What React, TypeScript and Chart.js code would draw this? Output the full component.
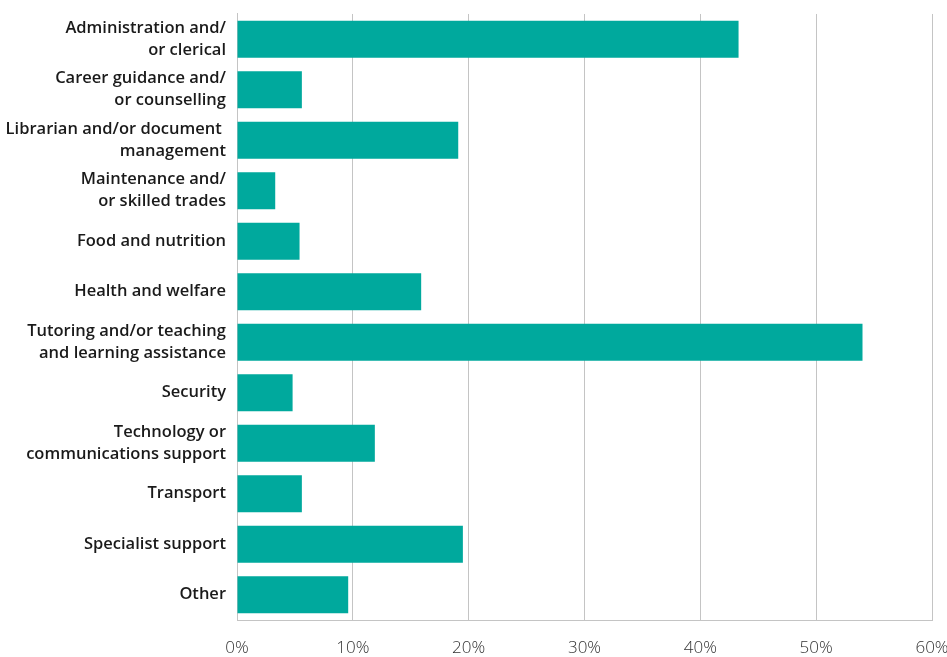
import React, { useEffect, useRef } from "react";
import { Chart, registerables } from "chart.js";

Chart.register(...registerables);

const categories: string[][] = [
  ["Administration and/", "or clerical"],
  ["Career guidance and/", "or counselling"],
  ["Librarian and/or document ", "management"],
  ["Maintenance and/", "or skilled trades"],
  ["Food and nutrition"],
  ["Health and welfare"],
  ["Tutoring and/or teaching", "and learning assistance"],
  ["Security"],
  ["Technology or", "communications support"],
  ["Transport"],
  ["Specialist support"],
  ["Other"],
];

const values: number[] = [43.3, 5.6, 19.1, 3.3, 5.4, 15.9, 54.0, 4.8, 11.9, 5.6, 19.5, 9.6];

const tickValues: number[] = [0, 10, 20, 30, 40, 50, 60];

export default function App() {
  const ref = useRef<HTMLCanvasElement | null>(null);

  useEffect(() => {
    document.body.style.margin = "0";
    if (!ref.current) return;
    const chart = new Chart(ref.current, {
      type: "bar",
      data: {
        labels: categories,
        datasets: [
          {
            data: values,
            backgroundColor: "#00a99d",
            borderWidth: 0,
            barPercentage: 0.73,
            categoryPercentage: 1,
          },
        ],
      },
      options: {
        indexAxis: "y",
        animation: false,
        responsive: true,
        maintainAspectRatio: false,
        layout: { padding: { top: 6, right: 0, left: 0, bottom: 0 } },
        plugins: { legend: { display: false }, tooltip: { enabled: false } },
        scales: {
          x: {
            min: 0,
            max: 60,
            afterBuildTicks: (scale: any) => {
              scale.ticks = tickValues.map((v) => ({ value: v }));
            },
            afterFit: (scale: any) => {
              scale.height = 37;
              scale.paddingRight = 15;
              scale.paddingLeft = 0;
            },
            grid: { color: "#c4c4c4", lineWidth: 1, drawTicks: false },
            border: { color: "#c4c4c4", width: 1 },
            ticks: {
              padding: 18,
              color: "#333333",
              font: { family: "'Open Sans', sans-serif", size: 17, weight: "300" },
              callback: (v: any) => v + "%",
            },
          },
          y: {
            afterFit: (scale: any) => {
              scale.width = 237;
            },
            grid: { display: false },
            border: { color: "#c4c4c4", width: 1 },
            ticks: {
              padding: 3,
              color: "#1a1a1a",
              font: { family: "'Open Sans', sans-serif", size: 16.5, weight: "600", lineHeight: 1.33 },
            },
          },
        },
      },
    });
    return () => chart.destroy();
  }, []);

  return (
    <div style={{ width: 947, height: 657, position: "relative" }}>
      <canvas ref={ref} />
    </div>
  );
}
